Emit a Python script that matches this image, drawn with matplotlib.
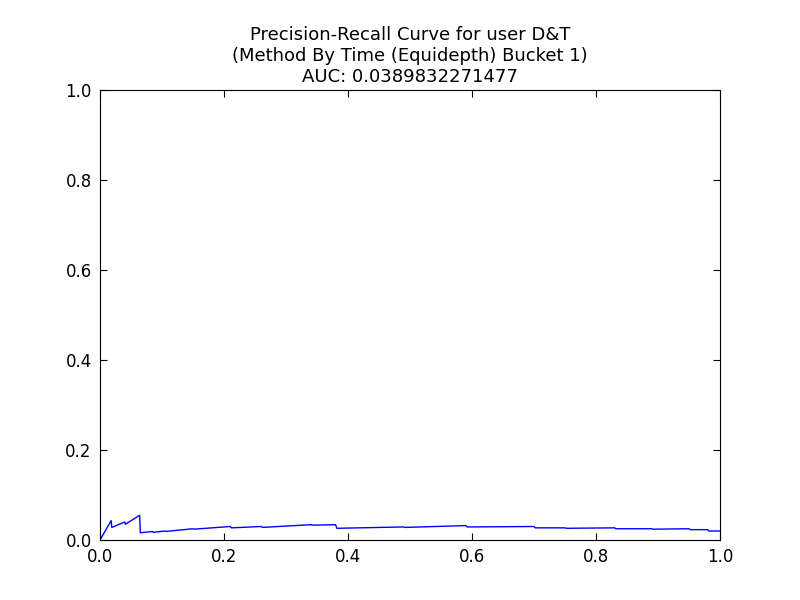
import matplotlib
matplotlib.use("Agg")
import matplotlib.pyplot as plt

recall = [0.0, 0.018, 0.019, 0.040, 0.041, 0.064, 0.065, 0.085, 0.086, 0.105, 0.106,
          0.15, 0.151, 0.21, 0.212, 0.26, 0.262, 0.34, 0.342, 0.38, 0.382,
          0.49, 0.492, 0.59, 0.592, 0.70, 0.702, 0.75, 0.752, 0.83, 0.832,
          0.89, 0.892, 0.95, 0.952, 0.98, 0.982, 1.0]
precision = [0.0, 0.043, 0.028, 0.040, 0.035, 0.055, 0.016, 0.019, 0.017, 0.020, 0.019,
             0.025, 0.024, 0.030, 0.027, 0.030, 0.028, 0.034, 0.033, 0.034, 0.026,
             0.029, 0.028, 0.032, 0.029, 0.030, 0.027, 0.027, 0.026, 0.027, 0.025,
             0.025, 0.024, 0.025, 0.023, 0.023, 0.020, 0.020]

fig = plt.figure(figsize=(8, 6), dpi=100)
plt.plot(recall, precision, color="blue", linewidth=1)
plt.xlim(0, 1)
plt.ylim(0, 1)
plt.title("Precision-Recall Curve for user D&T\n(Method By Time (Equidepth) Bucket 1)\nAUC: 0.0389832271477",
          fontsize=13)
plt.tick_params(direction="in", top=True, right=True, labelsize=12, length=5, pad=6)
plt.subplots_adjust(left=0.125, right=0.9, bottom=0.1, top=0.85)
plt.savefig("out.png")
